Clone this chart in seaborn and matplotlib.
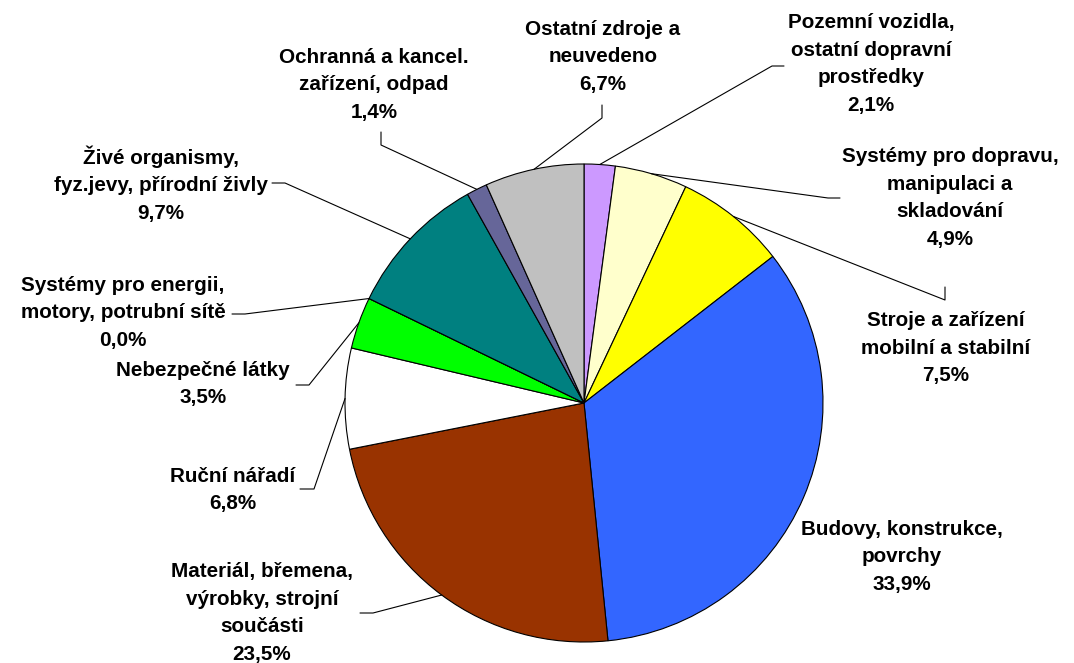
import numpy as np
import matplotlib
matplotlib.use("Agg")
import matplotlib.pyplot as plt
import seaborn as sns

# Injury sources and their shares (%)
categories = [
    "Pozemní vozidla,\nostatní dopravní\nprostředky",
    "Systémy pro dopravu,\nmanipulaci a\nskladování",
    "Stroje a zařízení\nmobilní a stabilní",
    "Budovy, konstrukce,\npovrchy",
    "Materiál, břemena,\nvýrobky, strojní\nsoučásti",
    "Ruční nářadí",
    "Nebezpečné látky",
    "Systémy pro energii,\nmotory, potrubní sítě",
    "Živé organismy,\nfyz.jevy, přírodní živly",
    "Ochranná a kancel.\nzařízení, odpad",
    "Ostatní zdroje a\nneuvedeno",
]
shares = [2.1, 4.9, 7.5, 33.9, 23.5, 6.8, 3.5, 0.0, 9.7, 1.4, 6.7]
colors = ["#CC99FF", "#FFFFCC", "#FFFF00", "#3366FF", "#993300", "#FFFFFF",
          "#00FF00", "#008080", "#008080", "#666699", "#C0C0C0"]

W, H = 1074, 663
CX, CY, R = 584, 403, 239

# label centres and leader elbows (pixel coordinates, y measured from top)
label_pos = [(871, 64), (950, 198), (946, 348), (902, 557), (262, 613),
             (233, 490), (203, 384), (123, 313), (161, 184), (374, 85),
             (603, 57)]
leader_elbows = [
    [(784, 66), (772, 66)],
    [(840, 198), (828, 198)],
    [(945, 287), (945, 300)],
    None,
    [(360, 613), (373, 613)],
    [(300, 489), (314, 489)],
    [(296, 385), (309, 385)],
    [(232, 314), (245, 314)],
    [(272, 183), (285, 183)],
    [(381, 132), (381, 145)],
    [(602, 105), (602, 118)],
]

sns.set_theme(style="white")
plt.rcParams["font.family"] = ["Liberation Sans", "DejaVu Sans"]

fig = plt.figure(figsize=(W / 100, H / 100), dpi=100)
ax = fig.add_axes([0, 0, 1, 1])
ax.set_xlim(0, W)
ax.set_ylim(0, H)
ax.set_aspect("equal")
ax.axis("off")


def fy(y):
    return H - y


wedges, _ = ax.pie(shares, colors=colors, startangle=90, counterclock=False,
                   center=(CX, fy(CY)), radius=R,
                   wedgeprops=dict(edgecolor="black", linewidth=0.8))
ax.set_xlim(0, W)
ax.set_ylim(0, H)

for i, (cat, val) in enumerate(zip(categories, shares)):
    txt = cat + "\n" + f"{val:.1f}%".replace(".", ",")
    lx, ly = label_pos[i]
    ax.text(lx, fy(ly), txt, ha="center", va="center", fontsize=14.9,
            fontweight="bold", color="black", linespacing=1.56)
    elbows = leader_elbows[i]
    if elbows is None:
        continue
    w = wedges[i]
    mid = np.deg2rad((w.theta1 + w.theta2) / 2)
    ex = CX + R * np.cos(mid)
    ey = fy(CY) + R * np.sin(mid)
    xs = [p[0] for p in elbows] + [ex]
    ys = [fy(p[1]) for p in elbows] + [ey]
    ax.plot(xs, ys, color="black", linewidth=0.8)

fig.savefig("out.png", dpi=100, facecolor="white")
